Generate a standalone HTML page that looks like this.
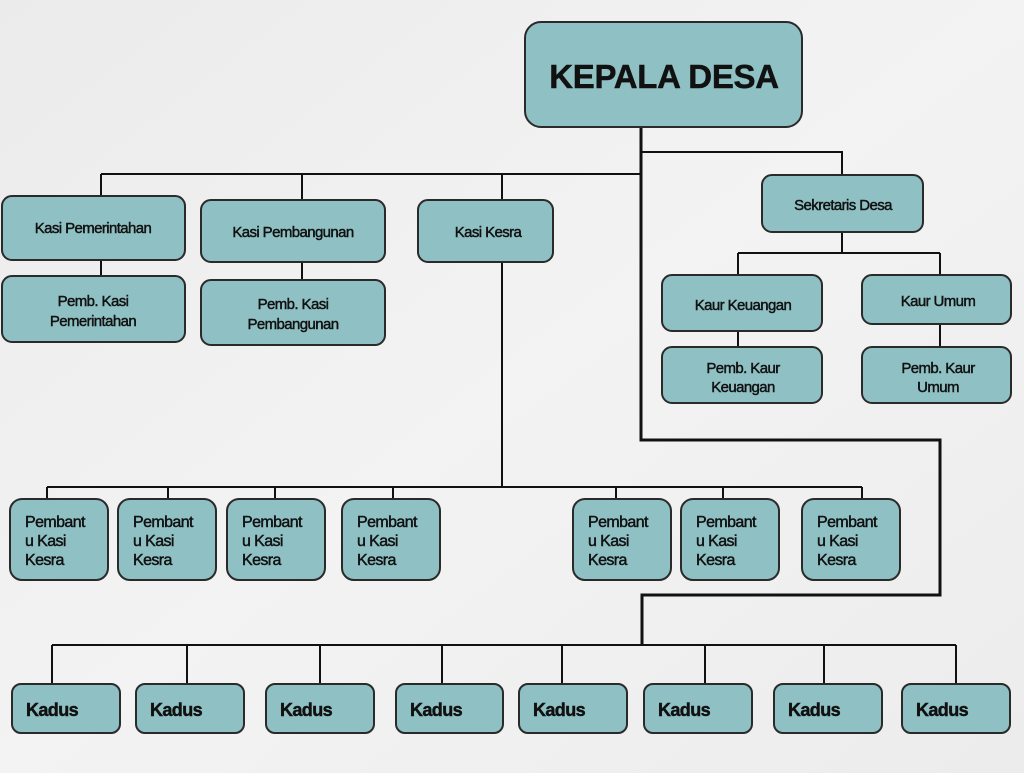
<!DOCTYPE html>
<html><head><meta charset="utf-8"><style>
html,body{margin:0;padding:0;background:#efefef}
svg{display:block}
text{font-family:"Liberation Sans",Arial,sans-serif;fill:#111;stroke:#111;stroke-width:0.45px;letter-spacing:-0.6px}
.b{fill:#8fc0c3;stroke:#2a2a2a;stroke-width:2}
.l{stroke:#111;stroke-width:2;fill:none}
.t{stroke:#111;stroke-width:3;fill:none}
</style></head><body>
<svg width="1024" height="773" viewBox="0 0 1024 773" xmlns="http://www.w3.org/2000/svg">
<defs><linearGradient id="bg" x1="0" y1="0" x2="1" y2="1"><stop offset="0" stop-color="#ebebeb"/><stop offset="0.5" stop-color="#f3f3f3"/><stop offset="1" stop-color="#ececec"/></linearGradient></defs>
<rect width="1024" height="773" fill="url(#bg)"/>
<path class="t" d="M641 127 V440 H940 V595 H642 V645"/>
<path class="l" d="M641 152 H842 V175"/>
<path class="l" d="M101 174 H641 M101 174 V197 M302 174 V201 M502 174 V200"/>
<path class="l" d="M101 250 V276 M302 252 V280"/>
<path class="l" d="M502 262 V487 M47 487 H862 M47 487 V500 M168 487 V500 M275 487 V500 M393 487 V500 M616 487 V500 M723 487 V500 M862 487 V500"/>
<path class="l" d="M842 232 V253 M738 253 H940 M738 253 V275 M940 253 V275 M738 324 V347 M940 324 V347"/>
<path class="l" d="M52 645 H956 M52 645 V684 M187 645 V684 M320 645 V684 M442 645 V684 M562 645 V684 M705 645 V684 M824 645 V684 M956 645 V684"/>
<rect class="b" x="525" y="22" width="277" height="105" rx="16"/>
<text x="664" y="88" text-anchor="middle" font-size="33" font-weight="bold" style="letter-spacing:-0.3px">KEPALA DESA</text>
<g font-size="15">
<rect class="b" x="2" y="196" width="183" height="64" rx="10"/>
<text x="93" y="233" text-anchor="middle">Kasi Pemerintahan</text>
<rect class="b" x="201" y="200" width="184" height="62" rx="10"/>
<text x="293" y="237" text-anchor="middle">Kasi Pembangunan</text>
<rect class="b" x="418" y="200" width="135" height="62" rx="10"/>
<text x="488" y="237" text-anchor="middle">Kasi Kesra</text>
<rect class="b" x="2" y="276" width="183" height="66" rx="10"/>
<text x="93" y="306" text-anchor="middle">Pemb. Kasi</text>
<text x="93" y="326" text-anchor="middle">Pemerintahan</text>
<rect class="b" x="201" y="280" width="184" height="65" rx="10"/>
<text x="293" y="309" text-anchor="middle">Pemb. Kasi</text>
<text x="293" y="329" text-anchor="middle">Pembangunan</text>
<rect class="b" x="762" y="175" width="161" height="57" rx="10"/>
<text x="843" y="210" text-anchor="middle">Sekretaris Desa</text>
<rect class="b" x="662" y="275" width="160" height="56" rx="10"/>
<text x="743" y="310" text-anchor="middle">Kaur Keuangan</text>
<rect class="b" x="862" y="275" width="149" height="49" rx="10"/>
<text x="938" y="306" text-anchor="middle">Kaur Umum</text>
<rect class="b" x="662" y="347" width="160" height="56" rx="10"/>
<text x="743" y="373" text-anchor="middle">Pemb. Kaur</text>
<text x="743" y="392" text-anchor="middle">Keuangan</text>
<rect class="b" x="862" y="347" width="149" height="56" rx="10"/>
<text x="938" y="373" text-anchor="middle">Pemb. Kaur</text>
<text x="938" y="392" text-anchor="middle">Umum</text>
</g>
<g font-size="16">
<rect class="b" x="10" y="499" width="98" height="81" rx="12"/>
<text x="25" y="527">Pembant</text><text x="25" y="546">u Kasi</text><text x="25" y="565">Kesra</text>
<rect class="b" x="118" y="499" width="98" height="81" rx="12"/>
<text x="133" y="527">Pembant</text><text x="133" y="546">u Kasi</text><text x="133" y="565">Kesra</text>
<rect class="b" x="227" y="499" width="98" height="81" rx="12"/>
<text x="242" y="527">Pembant</text><text x="242" y="546">u Kasi</text><text x="242" y="565">Kesra</text>
<rect class="b" x="342" y="499" width="98" height="81" rx="12"/>
<text x="357" y="527">Pembant</text><text x="357" y="546">u Kasi</text><text x="357" y="565">Kesra</text>
<rect class="b" x="573" y="499" width="98" height="81" rx="12"/>
<text x="588" y="527">Pembant</text><text x="588" y="546">u Kasi</text><text x="588" y="565">Kesra</text>
<rect class="b" x="681" y="499" width="98" height="81" rx="12"/>
<text x="696" y="527">Pembant</text><text x="696" y="546">u Kasi</text><text x="696" y="565">Kesra</text>
<rect class="b" x="802" y="499" width="98" height="81" rx="12"/>
<text x="817" y="527">Pembant</text><text x="817" y="546">u Kasi</text><text x="817" y="565">Kesra</text>
</g>
<g font-size="18" font-weight="bold">
<rect class="b" x="12" y="684" width="108" height="49" rx="9"/><text x="26" y="716">Kadus</text>
<rect class="b" x="136" y="684" width="108" height="49" rx="9"/><text x="150" y="716">Kadus</text>
<rect class="b" x="266" y="684" width="108" height="49" rx="9"/><text x="280" y="716">Kadus</text>
<rect class="b" x="396" y="684" width="107" height="49" rx="9"/><text x="410" y="716">Kadus</text>
<rect class="b" x="519" y="684" width="108" height="49" rx="9"/><text x="533" y="716">Kadus</text>
<rect class="b" x="644" y="684" width="108" height="49" rx="9"/><text x="658" y="716">Kadus</text>
<rect class="b" x="774" y="684" width="108" height="49" rx="9"/><text x="788" y="716">Kadus</text>
<rect class="b" x="902" y="684" width="108" height="49" rx="9"/><text x="916" y="716">Kadus</text>
</g>
</svg>
</body></html>
